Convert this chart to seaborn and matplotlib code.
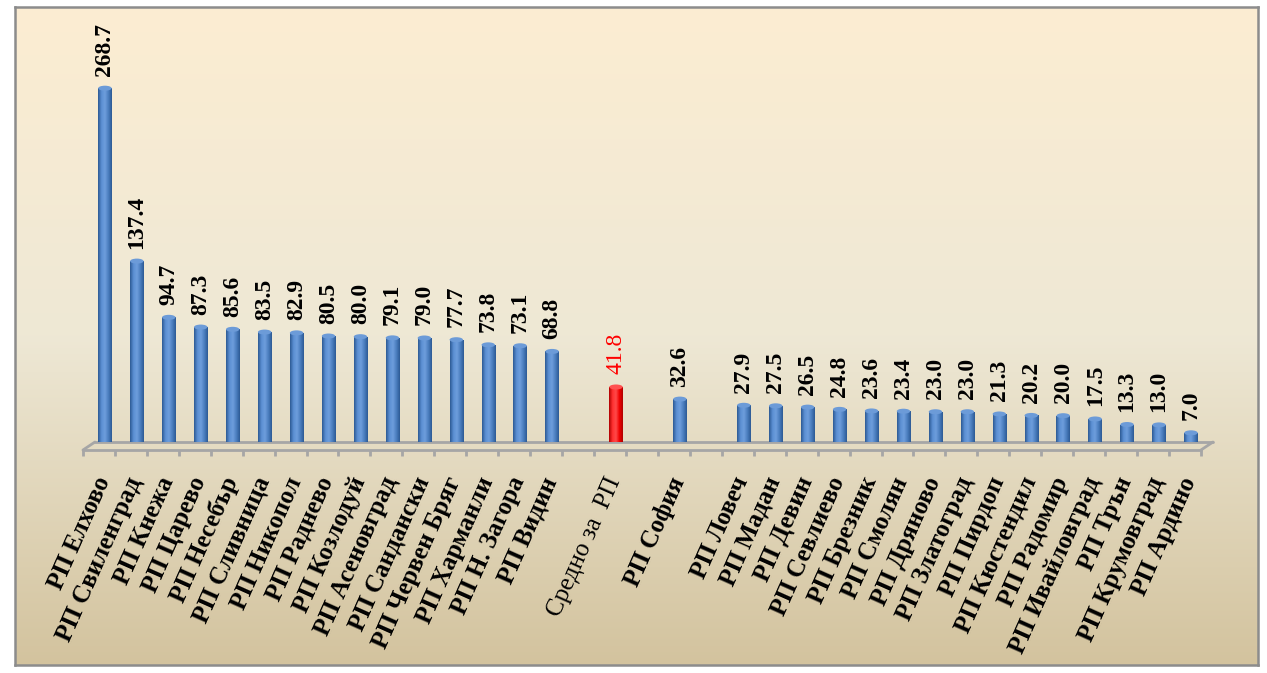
import numpy as np
import pandas as pd
import matplotlib
matplotlib.use('Agg')
import matplotlib.pyplot as plt
import matplotlib.transforms as mtransforms
from matplotlib.colors import LinearSegmentedColormap
from matplotlib.patches import Ellipse
from matplotlib.lines import Line2D
import seaborn as sns

left_labels = ['РП Елхово', 'РП Свиленград', 'РП Кнежа', 'РП Царево', 'РП Несебър',
               'РП Сливница', 'РП Никопол', 'РП Раднево', 'РП Козлодуй', 'РП Асеновград',
               'РП Сандански', 'РП Червен Бряг', 'РП Харманли', 'РП Н. Загора', 'РП Видин']
left_values = [268.7, 137.4, 94.7, 87.3, 85.6, 83.5, 82.9, 80.5, 80.0, 79.1,
               79.0, 77.7, 73.8, 73.1, 68.8]
avg_label = 'Средно за  РП'
avg_value = 41.8
sofia_label = 'РП София'
sofia_value = 32.6
right_labels = ['РП Ловеч', 'РП Мадан', 'РП Девин', 'РП Севлиево', 'РП Брезник',
                'РП Смолян', 'РП Дряново', 'РП Златоград', 'РП Пирдоп', 'РП Кюстендил',
                'РП Радомир', 'РП Ивайловград', 'РП Трън', 'РП Крумовград', 'РП Ардино']
right_values = [27.9, 27.5, 26.5, 24.8, 23.6, 23.4, 23.0, 23.0, 21.3, 20.2,
                20.0, 17.5, 13.3, 13.0, 7.0]

# groups are separated by one empty slot, as in the original
segments = [(left_labels, left_values, 'rp'),
            ([avg_label], [avg_value], 'avg'),
            ([sofia_label], [sofia_value], 'rp'),
            (right_labels, right_values, 'rp')]
rows = []
pos = 0
for labels, values, grp in segments:
    for lab, val in zip(labels, values):
        rows.append({'pos': pos, 'label': lab, 'value': val, 'group': grp})
        pos += 1
    pos += 1
n_slots = pos - 1
df = pd.DataFrame(rows)

sns.set_theme(style='white')
plt.rcParams['font.family'] = ['Liberation Serif', 'DejaVu Serif']

fig = plt.figure(figsize=(12.67, 6.73), dpi=100, facecolor='white')

# framed gradient background
bg = fig.add_axes([0.0118, 0.0119, 0.9811, 0.9777], zorder=0)
bg_cmap = LinearSegmentedColormap.from_list('bg', ['#FCEDD2', '#EEE8D5', '#D3C39E'])
bg.imshow(np.linspace(0, 1, 256)[:, None], aspect='auto', cmap=bg_cmap,
          extent=[0, 1, 0, 1], origin='upper')
bg.set_xticks([])
bg.set_yticks([])
for s in bg.spines.values():
    s.set_color('#8C8C8C')
    s.set_linewidth(1.8)

ax = fig.add_axes([0.0702, 0.3432, 0.8824, 0.587], zorder=1)
ax.patch.set_alpha(0)

sns.barplot(data=df, x='pos', y='value', hue='group', native_scale=True,
            palette={'rp': '#4F81BD', 'avg': '#FF0000'}, dodge=False,
            width=0.42, saturation=1, legend=False, ax=ax)

ymax = 300
ax.set_xlim(-0.5, n_slots - 0.5)
ax.set_ylim(0, ymax)
px_per_unit = ax.bbox.height / ymax

# cylinder shading
cyl = {
    'rp': LinearSegmentedColormap.from_list('b', ['#2D5A94', '#5B8FD3', '#6E9EDC', '#4B7EBF', '#2D5A94']),
    'avg': LinearSegmentedColormap.from_list('r', ['#B00000', '#FF3030', '#FF4A4A', '#F00000', '#B00000']),
}
top_col = {'rp': '#6C9BD8', 'avg': '#FF5050'}
for bar in list(ax.patches):
    fc = bar.get_facecolor()
    grp = 'avg' if fc[1] < 0.1 else 'rp'
    x0, w, h = bar.get_x(), bar.get_width(), bar.get_height()
    im = ax.imshow(np.linspace(0, 1, 64)[None, :], cmap=cyl[grp], aspect='auto',
                   extent=[x0, x0 + w, 0, h], zorder=3)
    im.set_clip_path(bar)
    bar.set_edgecolor('none')
    ax.add_patch(Ellipse((x0 + w / 2, h), w, 5 / px_per_unit,
                         facecolor=top_col[grp], edgecolor='none', zorder=4))
ax.set_xlim(-0.5, n_slots - 0.5)
ax.set_ylim(0, ymax)

# value labels
for _, r in df.iterrows():
    is_avg = r['group'] == 'avg'
    ax.annotate(f"{r['value']:.1f}", (r['pos'], r['value']), xytext=(0, 9),
                textcoords='offset points', rotation=90, ha='center', va='bottom',
                fontsize=17, fontweight='normal' if is_avg else 'bold',
                color='red' if is_avg else 'black', zorder=5)

# 3D-style floor: back edge, front edge and tick marks
line_col = '#A6A6A6'
back = ax.transData + mtransforms.ScaledTranslation(0.06, 0, fig.dpi_scale_trans)
front = ax.transData + mtransforms.ScaledTranslation(-0.06, -0.08, fig.dpi_scale_trans)
ends = [-0.5, n_slots - 0.5]
ax.plot(ends, [0, 0], transform=back, color=line_col, lw=2, clip_on=False, zorder=2)
ax.plot(ends, [0, 0], transform=front, color=line_col, lw=2, clip_on=False, zorder=2)
ax.vlines(np.arange(n_slots + 1) - 0.5, 0, -6 / px_per_unit, transform=front,
          color=line_col, lw=2, clip_on=False)
for xe in ends:
    pb = back.transform((xe, 0))
    pf = front.transform((xe, 0))
    fig.add_artist(Line2D([pb[0], pf[0]], [pb[1], pf[1]], color=line_col, lw=2,
                          transform=mtransforms.IdentityTransform(), zorder=2))

ax.set_xticks(df['pos'], df['label'])
ax.tick_params(axis='x', length=0, pad=26)
label_shift = mtransforms.ScaledTranslation(-0.01, 0, fig.dpi_scale_trans)
for tl, grp in zip(ax.get_xticklabels(), df['group']):
    tl.set_rotation(66)
    tl.set_ha('right')
    tl.set_va('center')
    tl.set_rotation_mode('anchor')
    tl.set_fontsize(18)
    tl.set_fontweight('normal' if grp == 'avg' else 'bold')
    tl.set_color('black')
    tl.set_transform(tl.get_transform() + label_shift)
ax.set_yticks([])
ax.set_xlabel('')
ax.set_ylabel('')
for s in ax.spines.values():
    s.set_visible(False)

fig.savefig('out.png', dpi=100, facecolor='white')
